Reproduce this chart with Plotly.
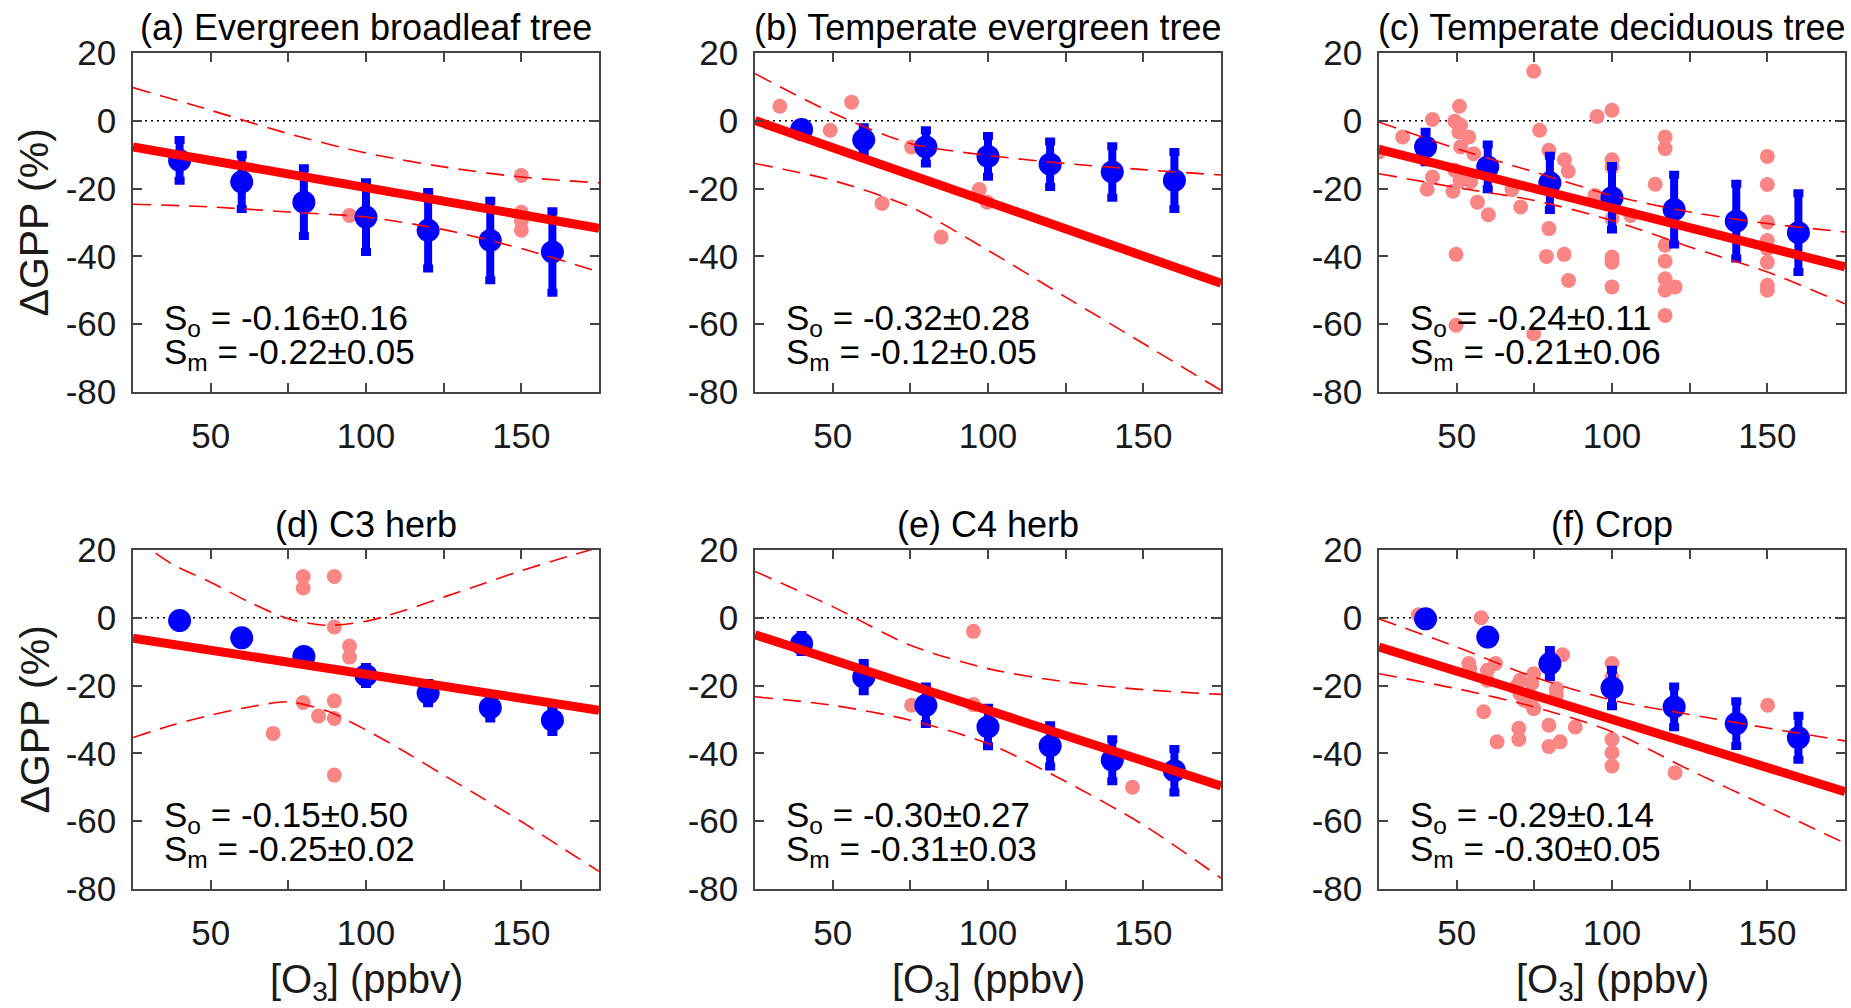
import plotly.graph_objects as go

# ---------------- data ----------------
o3_model = [40, 60, 80, 100, 120, 140, 160]
fit_x = [25, 175]
band_x = [25, 50, 75, 100, 125, 150, 175]
band_x_d = [25, 37.5, 50, 62.5, 75, 87.5, 100, 112.5, 125, 137.5, 150, 162.5, 175]

x_tickvals = [50, 100, 150]
x_ticktext = ["50", "100", "150"]
x_minor_tickvals = [75, 125]
y_tickvals = [-80, -60, -40, -20, 0, 20]
y_ticktext = ["-80", "-60", "-40", "-20", "0", "20"]

titles = ["(a) Evergreen broadleaf tree", "(b) Temperate evergreen tree",
          "(c) Temperate deciduous tree", "(d) C3 herb", "(e) C4 herb", "(f) Crop"]
s_obs = ["-0.16±0.16", "-0.32±0.28", "-0.24±0.11", "-0.15±0.50", "-0.30±0.27", "-0.29±0.14"]
s_mod = ["-0.22±0.05", "-0.12±0.05", "-0.21±0.06", "-0.25±0.02", "-0.31±0.03", "-0.30±0.05"]

# (a) Evergreen broadleaf tree
a_obs_x = [94.7, 150, 150, 150, 150]
a_obs_y = [-27.9, -16.1, -27.0, -29.5, -32.3]
a_mod_y = [-11.7, -18.0, -24.0, -28.4, -32.3, -35.3, -38.7]
a_mod_err = [6.0, 8.0, 10.0, 10.3, 11.3, 11.7, 12.0]
a_fit_y = [-7.7, -31.7]
a_up_y = [9.8, 3.1, -3.8, -9.5, -13.6, -16.6, -18.3]
a_lo_y = [-24.6, -25.4, -26.9, -28.4, -32.1, -37.7, -44.6]

# (b) Temperate evergreen tree
b_obs_x = [33.0, 56.1, 49.2, 75.4, 65.9, 84.9, 97.2, 99.7]
b_obs_y = [4.3, 5.5, -2.8, -7.7, -24.4, -34.3, -20.3, -24.0]
b_mod_y = [-2.6, -5.6, -7.7, -10.5, -12.8, -15.1, -17.6]
b_mod_err = [1.5, 3.7, 4.9, 6.0, 6.7, 7.6, 8.4]
b_fit_y = [0.1, -47.9]
b_up_y = [13.9, 2.3, -6.7, -10.2, -12.6, -14.4, -16.0]
b_lo_y = [-12.6, -17.6, -25.4, -38.2, -52.0, -65.7, -79.5]

# (c) Temperate deciduous tree
c_obs_x = [25.0, 32.6, 42.2, 42.2, 40.5, 50.9, 49.4, 51.3, 50.7, 53.9, 51.3, 49.4, 51.1,
           54.5, 48.8, 49.8, 49.8, 55.5, 56.7, 60.2, 67.8, 70.6, 74.8, 76.7, 74.8, 79.7,
           79.7, 78.9, 84.7, 85.9, 84.6, 86.0, 95.2, 94.5, 100, 100, 100, 100, 100, 100,
           100, 106.0, 113.9, 117.1, 117.1, 117.1, 117.1, 117.1, 117.1, 117.1, 120.3,
           150, 150, 150, 150, 150, 150, 150, 150]
c_obs_y = [-9.2, -4.8, 0.4, -16.6, -20.2, 4.3, -0.1, -1.3, -3.3, -4.8, -7.7, -14.6, -17.6,
           -18.0, -20.8, -39.4, -60.3, -9.7, -24.0, -27.7, -20.3, -25.4, 14.6, -2.8, -62.8,
           -8.7, -31.8, -40.0, -11.5, -14.9, -39.4, -47.1, 1.3, -22.0, 3.1, -11.5, -13.6,
           -28.9, -40.2, -41.7, -49.0, -27.9, -18.7, -4.8, -8.2, -36.7, -41.4, -46.6,
           -50.0, -57.4, -49.0, -10.5, -18.8, -29.9, -35.3, -37.7, -41.7, -48.5, -50.0]
c_mod_y = [-7.7, -13.6, -18.3, -22.7, -26.2, -29.6, -33.0]
c_mod_err = [4.5, 6.6, 8.0, 9.4, 10.3, 11.0, 11.6]
c_fit_y = [-8.4, -43.1]
c_up_y = [-0.4, -8.2, -15.1, -22.0, -26.9, -30.3, -32.8]
c_lo_y = [-15.6, -19.7, -23.5, -29.4, -37.2, -44.6, -54.0]

# (d) C3 herb
d_obs_x = [79.8, 79.8, 89.8, 89.8, 94.7, 94.7, 79.8, 89.8, 84.7, 89.8, 70.1, 89.8]
d_obs_y = [12.2, 8.8, 12.2, -2.7, -8.3, -11.6, -25.0, -24.5, -29.0, -29.7, -34.1, -46.4]
d_mod_y = [-0.8, -5.9, -11.4, -17.0, -22.2, -26.5, -30.2]
d_mod_err = [0.5, 1.0, 1.5, 2.5, 3.0, 3.2, 3.5]
d_fit_y = [-6.0, -27.3]
d_up_y = [24.0, 15.9, 10.5, 4.6, -0.3, -2.2, -1.0, 2.2, 6.1, 10.0, 13.9, 17.4, 20.8]
d_lo_y = [-35.3, -31.7, -28.7, -26.3, -24.8, -27.5, -33.1, -39.5, -46.4, -53.2, -60.1, -67.5, -74.8]

# (e) C4 herb
e_obs_x = [95.3, 75.4, 95.3, 146.5]
e_obs_y = [-4.0, -25.8, -25.6, -50.0]
e_mod_y = [-7.6, -17.5, -25.8, -32.2, -37.8, -42.0, -45.1]
e_mod_err = [2.5, 4.2, 5.5, 5.7, 6.1, 6.2, 6.4]
e_fit_y = [-5.0, -49.6]
e_up_y = [13.7, 3.3, -8.1, -15.0, -18.9, -21.2, -22.6]
e_lo_y = [-23.3, -25.8, -30.2, -37.1, -48.3, -61.1, -76.8]

# (f) Crop
f_obs_x = [37.7, 57.9, 53.9, 54.2, 59.9, 62.5, 59.9, 58.7, 63.0, 70.4, 70.4, 71.7, 73.8,
           74.8, 74.8, 70.0, 70.0, 84.1, 82.1, 82.1, 79.7, 79.7, 83.3, 88.2, 100, 100,
           100, 100, 100, 120.3, 150.1, 74.2, 69.1]
f_obs_y = [0.9, 0.0, -13.5, -15.0, -15.5, -13.5, -18.4, -27.7, -36.6, -18.4, -22.4, -24.3,
           -25.3, -16.5, -26.8, -32.6, -35.9, -10.9, -20.9, -22.8, -31.7, -38.0, -36.6,
           -32.2, -13.5, -17.5, -35.9, -39.8, -43.7, -45.7, -25.8, -19.4, -20.4]
f_mod_y = [-0.3, -5.7, -13.5, -20.7, -26.3, -31.2, -35.4]
f_mod_err = [1.5, 1.5, 4.0, 5.4, 6.0, 6.6, 6.5]
f_fit_y = [-8.6, -51.3]
f_up_y = [-0.3, -8.6, -17.5, -24.3, -28.5, -32.5, -36.3]
f_lo_y = [-16.5, -20.9, -26.3, -33.6, -44.9, -55.7, -66.5]

panels = [
    (a_obs_x, a_obs_y, a_mod_y, a_mod_err, a_fit_y, band_x, a_up_y, a_lo_y),
    (b_obs_x, b_obs_y, b_mod_y, b_mod_err, b_fit_y, band_x, b_up_y, b_lo_y),
    (c_obs_x, c_obs_y, c_mod_y, c_mod_err, c_fit_y, band_x, c_up_y, c_lo_y),
    (d_obs_x, d_obs_y, d_mod_y, d_mod_err, d_fit_y, band_x_d, d_up_y, d_lo_y),
    (e_obs_x, e_obs_y, e_mod_y, e_mod_err, e_fit_y, band_x, e_up_y, e_lo_y),
    (f_obs_x, f_obs_y, f_mod_y, f_mod_err, f_fit_y, band_x, f_up_y, f_lo_y),
]

# ---------------- layout geometry (pixels) ----------------
W, H = 1851, 1008
col_px = [(133, 599), (755, 1221), (1379, 1845)]
row_px = [(53, 392), (550, 889)]

FONT = "Liberation Sans, Arial, Helvetica, sans-serif"
RED = "#ff0000"
BLUE = "#0000ff"
PINK = "#f98585"
FRAME = "#444444"
TXT = "#1a1a1a"

fig = go.Figure()
layout = dict(width=W, height=H,
              margin=dict(l=0, r=0, t=0, b=0, pad=0, autoexpand=False),
              paper_bgcolor="white", plot_bgcolor="white", showlegend=False,
              font=dict(family=FONT, color=TXT))
annotations = []
shapes = []

for i, (ox, oy, my, me, fy, bx, uy, ly) in enumerate(panels):
    r, c = divmod(i, 3)
    n = "" if i == 0 else str(i + 1)
    xa, ya = "x" + n, "y" + n
    x0, x1 = col_px[c]
    y0, y1 = row_px[r]
    layout["xaxis" + n] = dict(
        domain=[x0 / W, x1 / W], range=[25, 175], anchor=ya, automargin=False,
        tickmode="array", tickvals=x_tickvals, ticktext=x_ticktext,
        ticks="inside", ticklen=9, tickwidth=1.5, tickcolor=FRAME,
        minor=dict(tickmode="array", tickvals=x_minor_tickvals, ticks="inside",
                   ticklen=9, tickwidth=1.5, tickcolor=FRAME, showgrid=False),
        showline=True, linecolor=FRAME, linewidth=1.5, mirror="ticks",
        showgrid=False, zeroline=False,
        tickfont=dict(size=35, color=TXT), ticklabelstandoff=12)
    layout["yaxis" + n] = dict(
        domain=[1 - y1 / H, 1 - y0 / H], range=[-80, 20], anchor=xa, automargin=False,
        tickmode="array", tickvals=y_tickvals, ticktext=y_ticktext,
        ticks="inside", ticklen=9, tickwidth=1.5, tickcolor=FRAME,
        showline=True, linecolor=FRAME, linewidth=1.5, mirror="ticks",
        showgrid=False, zeroline=False,
        tickfont=dict(size=35, color=TXT), ticklabelstandoff=8)

    shapes.append(dict(type="line", xref=xa + " domain", yref=ya, x0=0, x1=1,
                       y0=0, y1=0, line=dict(color="black", width=1.5, dash="2px,4px"),
                       layer="below"))

    fig.add_trace(go.Scatter(x=ox, y=oy, mode="markers", xaxis=xa, yaxis=ya,
                             marker=dict(color=PINK, size=15, line=dict(width=0))))
    fig.add_trace(go.Scatter(x=o3_model, y=my, mode="markers", xaxis=xa, yaxis=ya,
                             marker=dict(color=BLUE, size=23, line=dict(width=0)),
                             error_y=dict(type="data", array=me, visible=True,
                                          color=BLUE, thickness=8, width=5)))
    for by in (uy, ly):
        fig.add_trace(go.Scatter(x=bx, y=by, mode="lines", xaxis=xa, yaxis=ya,
                                 line=dict(color=RED, width=1.6, dash="18px,10px",
                                           shape="spline", smoothing=0.8)))
    fig.add_trace(go.Scatter(x=fit_x, y=fy, mode="lines", xaxis=xa, yaxis=ya,
                             line=dict(color=RED, width=9)))

    # panel title
    annotations.append(dict(text=titles[i], xref=xa + " domain", yref=ya + " domain",
                            x=0.5, y=1.074, xanchor="center", yanchor="middle",
                            showarrow=False, font=dict(size=36, color="black")))
    # slope text
    annotations.append(dict(text="S<sub>o</sub> = " + s_obs[i], xref=xa + " domain",
                            yref=ya + " domain", x=0.062, y=0.212, xanchor="left",
                            yanchor="middle", showarrow=False,
                            font=dict(size=35, color="black")))
    annotations.append(dict(text="S<sub>m</sub> = " + s_mod[i], xref=xa + " domain",
                            yref=ya + " domain", x=0.062, y=0.112, xanchor="left",
                            yanchor="middle", showarrow=False,
                            font=dict(size=35, color="black")))
    if c == 0:
        annotations.append(dict(text="ΔGPP (%)", xref="paper", yref=ya + " domain",
                                x=34 / W, y=0.5, xanchor="center", yanchor="middle",
                                textangle=-90, showarrow=False,
                                font=dict(size=41, color=TXT)))
    if r == 1:
        annotations.append(dict(text="[O<sub>3</sub>] (ppbv)", xref=xa + " domain",
                                yref="paper", x=0.5, y=1 - 982 / H, xanchor="center",
                                yanchor="middle", showarrow=False,
                                font=dict(size=40, color=TXT)))

layout["annotations"] = annotations
layout["shapes"] = shapes
fig.update_layout(**layout)

fig.write_html("out.html", config={"displayModeBar": False},
               post_script="document.body.style.margin='0';document.body.style.overflow='hidden';")
